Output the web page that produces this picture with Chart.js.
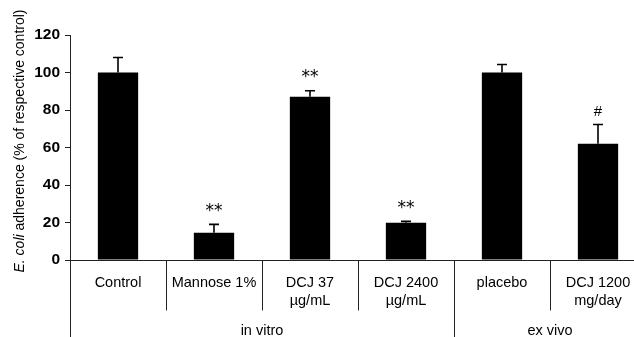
<!DOCTYPE html>
<html>
<head>
<meta charset="utf-8">
<script src="https://cdn.jsdelivr.net/npm/chart.js@4/dist/chart.umd.min.js"></script>
<style>
html,body{margin:0;padding:0;overflow:hidden;background:#fff;}
#wrap{position:relative;width:646px;height:337px;}
</style>
</head>
<body>
<div id="wrap"><canvas id="c"></canvas></div>
<script>
const categories = [["Control"],["Mannose 1%"],["DCJ 37","µg/mL"],["DCJ 2400","µg/mL"],["placebo"],["DCJ 1200","mg/day"]];
const values = [100, 14.6, 87.1, 19.9, 100, 62.0];
const errors = [8.0, 4.4, 3.2, 0.7, 4.3, 10.3];
const marks = ["", "**", "**", "**", "", "#"];
const groupLabels = ["in vitro", "ex vivo"];
const groupStart = [0, 4];
const groupEnd = [3, 5];
const yMin = 0, yMax = 120, yStep = 20;

const AX = '#222';
const FONT = '"Liberation Sans", Arial, sans-serif';

const overlay = {
  id: 'overlay',
  afterDatasetsDraw(chart) {
    const ctx = chart.ctx;
    const xs = chart.scales.x, ys = chart.scales.y;
    const meta = chart.getDatasetMeta(0);
    const area = chart.chartArea;
    const H = chart.height;
    ctx.save();
    // error bars and marks
    ctx.strokeStyle = '#000';
    ctx.lineWidth = 1.6;
    meta.data.forEach((bar, i) => {
      const x = bar.x;
      const yTop = ys.getPixelForValue(values[i]);
      const yErr = ys.getPixelForValue(values[i] + errors[i]);
      ctx.beginPath();
      ctx.moveTo(x, yTop);
      ctx.lineTo(x, yErr);
      ctx.moveTo(x - 5, yErr);
      ctx.lineTo(x + 5, yErr);
      ctx.stroke();
      if (marks[i]) {
        ctx.fillStyle = '#000';
        ctx.textAlign = 'center';
        ctx.textBaseline = 'middle';
        if (marks[i] === '#') {
          ctx.font = '15px ' + FONT;
        } else {
          ctx.font = '17px "DejaVu Sans", sans-serif';
        }
        ctx.fillText(marks[i], x, yErr - 13);
      }
    });
    // x axis line
    const y0 = Math.round(ys.getPixelForValue(0)) + 0.5;
    ctx.strokeStyle = AX;
    ctx.lineWidth = 1;
    ctx.beginPath();
    ctx.moveTo(area.left, y0);
    ctx.lineTo(area.right, y0);
    ctx.stroke();
    // separators
    const half = (xs.getPixelForValue(1) - xs.getPixelForValue(0)) / 2;
    for (let i = 0; i <= categories.length; i++) {
      const bx = Math.round(xs.getPixelForValue(i) - half) + 0.5;
      const isGroup = groupStart.includes(i) || i === categories.length;
      ctx.beginPath();
      ctx.moveTo(bx, y0);
      ctx.lineTo(bx, isGroup ? H : y0 + 50);
      ctx.stroke();
    }
    // category labels
    ctx.fillStyle = '#000';
    ctx.font = '14.5px ' + FONT;
    ctx.textAlign = 'center';
    ctx.textBaseline = 'middle';
    categories.forEach((lines, i) => {
      const cx = xs.getPixelForValue(i);
      lines.forEach((t, j) => ctx.fillText(t, cx, y0 + 22 + j * 18));
    });
    // group labels
    groupLabels.forEach((g, k) => {
      const cx = (xs.getPixelForValue(groupStart[k]) + xs.getPixelForValue(groupEnd[k])) / 2;
      ctx.fillText(g, cx, y0 + 70);
    });
    // y title
    ctx.translate(20, 141);
    ctx.rotate(-Math.PI / 2);
    const p1 = 'E. coli', p2 = ' adherence (% of respective control)';
    ctx.font = 'italic 14px ' + FONT;
    const w1 = ctx.measureText(p1).width;
    ctx.font = '14px ' + FONT;
    const w2 = ctx.measureText(p2).width;
    let sx = -(w1 + w2) / 2;
    ctx.textAlign = 'left';
    ctx.font = 'italic 14px ' + FONT;
    ctx.fillText(p1, sx, 0);
    ctx.font = '14px ' + FONT;
    ctx.fillText(p2, sx + w1, 0);
    ctx.restore();
  }
};

new Chart(document.getElementById('c'), {
  type: 'bar',
  data: {
    labels: categories,
    datasets: [{
      data: values,
      backgroundColor: '#000',
      borderWidth: 0,
      barPercentage: 0.42,
      categoryPercentage: 1.0
    }]
  },
  options: {
    responsive: true,
    maintainAspectRatio: false,
    animation: false,
    layout: { padding: { top: 35, bottom: 77, left: 0, right: 0 } },
    plugins: { legend: { display: false }, tooltip: { enabled: false } },
    scales: {
      x: { display: false },
      y: {
        min: yMin, max: yMax,
        afterFit(scale) { scale.width = 70; },
        ticks: {
          stepSize: yStep,
          padding: 5,
          color: '#000',
          font: { family: FONT, size: 15.5, weight: 'bold' }
        },
        grid: { drawOnChartArea: false, drawTicks: true, tickLength: 5, color: AX },
        border: { display: true, color: AX, width: 1 }
      }
    }
  },
  plugins: [overlay]
});
</script>
</body>
</html>
